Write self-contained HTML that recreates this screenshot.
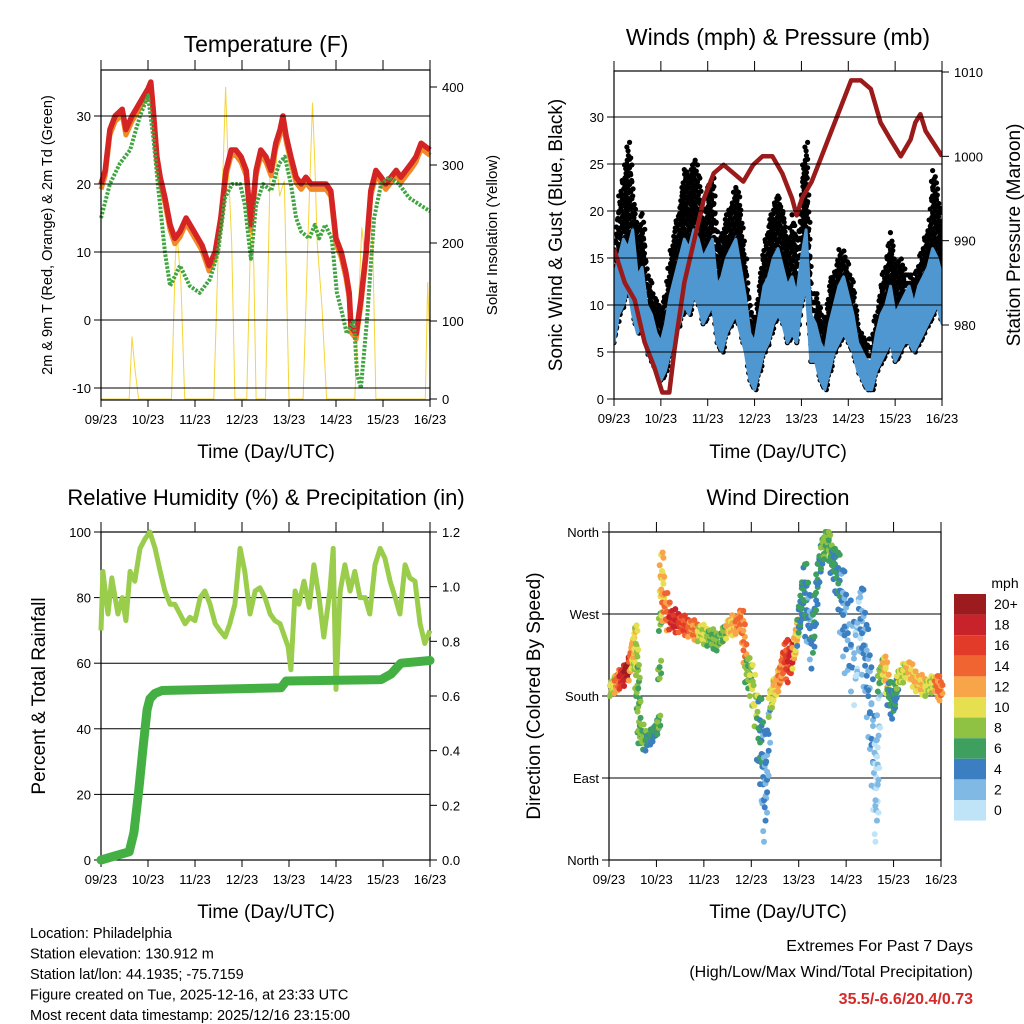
<!DOCTYPE html>
<html><head><meta charset="utf-8"><style>
body{margin:0;background:#fff;}
svg{display:block;font-family:"Liberation Sans",sans-serif;}
</style></head><body>
<svg id="c" width="1024" height="1024" viewBox="0 0 1024 1024"></svg>
<script>
// ---- Temperature panel data (days since 09/23) ----
const tDays=[0,0.09,0.19,0.3,0.45,0.53,0.66,0.83,1.0,1.06,1.11,1.19,1.26,1.36,1.47,1.57,1.68,1.81,1.98,2.15,2.3,2.43,2.55,2.66,2.77,2.87,2.98,3.09,3.19,3.3,3.4,3.51,3.62,3.72,3.81,3.87,3.94,4.04,4.15,4.26,4.36,4.47,4.57,4.68,4.79,4.89,5.0,5.11,5.21,5.28,5.32,5.43,5.53,5.64,5.74,5.85,5.96,6.06,6.17,6.28,6.38,6.49,6.6,6.7,6.81,7.0];
const tempRed=[20,22,28,30,31,28,30,32,34,35,31,24,21,18,14,12,13,15,13,11,8,10,15,22,25,25,24,22,14,22,25,24,22,26,28,30,27,24,21,20,21,20,20,20,20,19,12,10,7,4,-1,-2,3,10,19,22,21,20,21,22,21,22,23,24,26,25];
const dewDays=[0,0.19,0.4,0.62,0.83,1.0,1.11,1.21,1.36,1.47,1.68,1.89,2.1,2.32,2.49,2.64,2.79,2.96,3.06,3.19,3.3,3.45,3.62,3.79,3.91,4.04,4.15,4.26,4.43,4.55,4.64,4.77,4.91,5.02,5.13,5.23,5.38,5.45,5.53,5.66,5.81,5.96,6.13,6.34,6.55,6.77,7.0];
const dewGreen=[15,20,23,25,30,33,27,20,10,5,8,5,4,6,10,18,20,20,17,9,17,20,19,23,24,20,15,13,12,14,12,14,12,4,1,-2,0,-8,-10,0,15,20,21,20,18,17,16];
const solarDays=[0,0.6,0.66,0.72,0.8,1.5,1.58,1.62,1.7,1.78,2.4,2.5,2.6,2.65,2.7,2.78,2.85,3.1,3.2,3.25,3.3,3.5,3.6,3.7,3.8,3.9,4.0,4.3,4.4,4.5,4.55,4.6,4.7,4.8,5.4,5.5,5.55,5.62,5.7,5.78,5.85,6.0,6.9,6.95,7.0];
const solarY=[0,0,80,40,0,0,180,210,150,0,0,200,300,400,310,200,0,0,250,170,0,0,300,330,260,280,0,0,200,380,300,200,120,0,0,150,220,180,240,200,0,0,0,150,60];
// ---- Wind panel data ----
const wDays=[0,0.1,0.2,0.3,0.4,0.5,0.6,0.7,0.8,0.9,1.0,1.1,1.2,1.3,1.4,1.5,1.6,1.7,1.8,1.9,2.0,2.1,2.2,2.3,2.4,2.5,2.6,2.7,2.8,2.9,3.0,3.1,3.2,3.3,3.4,3.5,3.6,3.7,3.8,3.9,4.0,4.1,4.2,4.3,4.4,4.5,4.6,4.7,4.8,4.9,5.0,5.1,5.2,5.3,5.4,5.5,5.6,5.7,5.8,5.9,6.0,6.1,6.2,6.3,6.4,6.5,6.6,6.7,6.8,6.9,7.0];
const windLo=[6,9,10,12,9,7,8,5,4,3,2,3,5,7,8,10,9,11,10,8,9,10,6,5,7,8,9,7,5,2,1,3,5,6,8,9,8,6,7,6,10,12,4,4,2,1,3,5,6,7,6,5,3,2,1,1,3,4,5,6,4,5,6,6,5,6,7,8,9,10,8];
const windHi=[13,15,17,16,18,13,14,10,9,7,6,8,11,13,15,17,16,18,17,15,16,17,12,13,15,16,17,14,11,7,6,9,12,13,15,16,14,12,13,11,15,18,9,8,6,5,8,10,12,13,11,9,6,5,4,4,7,9,10,12,9,10,11,12,10,12,13,14,16,15,13];
const windGust=[17,22,24,28,22,18,20,14,12,11,10,12,16,19,21,25,24,26,24,19,23,24,17,18,20,21,23,20,15,10,9,13,17,19,21,22,20,17,20,16,24,28,11,12,9,9,13,14,16,16,14,12,8,7,6,7,10,13,15,18,14,15,14,14,13,15,17,18,25,22,18];
const presDays=[0,0.23,0.44,0.65,0.86,1.03,1.18,1.29,1.5,1.71,1.92,2.13,2.34,2.55,2.76,2.97,3.17,3.38,3.59,3.8,3.9,4.01,4.22,4.43,4.64,4.85,5.06,5.17,5.27,5.48,5.69,5.9,6.12,6.33,6.43,6.54,6.65,7.0];
const pressure=[989,985,983,978,975,972,972,977,985,990,995,998,999,998,997,999,1000,1000,998,995,993,995,997,1000,1003,1006,1009,1009,1009,1008,1004,1002,1000,1002,1004,1005,1003,1000];
// ---- RH / precip data ----
const rhDays=[0,0.04,0.15,0.23,0.36,0.45,0.53,0.62,0.72,0.83,0.94,1.04,1.15,1.26,1.36,1.47,1.57,1.68,1.79,1.89,2.0,2.11,2.21,2.32,2.43,2.53,2.64,2.74,2.85,2.96,3.06,3.17,3.28,3.38,3.49,3.6,3.7,3.81,3.98,4.04,4.13,4.21,4.32,4.43,4.53,4.64,4.74,4.87,4.94,5.0,5.09,5.19,5.3,5.4,5.51,5.62,5.72,5.83,5.94,6.04,6.15,6.26,6.36,6.47,6.57,6.68,6.79,6.89,7.0];
const rh=[70,88,75,86,75,80,73,88,85,95,98,100,95,88,82,78,78,75,72,74,73,80,82,78,72,70,68,72,78,95,88,75,82,83,80,75,73,72,65,58,82,78,85,77,90,80,68,82,95,52,82,90,82,88,80,80,75,90,95,92,85,80,75,90,86,85,72,66,70];
const prDays=[0,0.4,0.6,0.7,0.8,0.9,0.98,1.04,1.15,1.3,3.83,3.94,5.96,6.17,6.38,7.0];
const precip=[0,0.02,0.03,0.1,0.25,0.42,0.55,0.59,0.61,0.62,0.63,0.655,0.66,0.68,0.72,0.73];
// ---- Wind direction data ----
const dDays=[0.05,0.15,0.25,0.35,0.45,0.5,0.55,0.6,0.65,0.8,0.95,1.05,1.1,1.15,1.3,1.5,1.7,1.9,2.1,2.3,2.5,2.7,2.8,2.9,3.0,3.15,3.25,3.3,3.4,3.5,3.6,3.7,3.8,3.9,4.0,4.1,4.2,4.3,4.4,4.5,4.6,4.7,4.8,4.9,5.0,5.2,5.3,5.4,5.5,5.6,5.65,5.7,5.8,5.9,6.0,6.1,6.3,6.5,6.7,6.9,7.0];
const dDir=[190,195,200,205,215,230,240,200,140,130,140,150,320,280,265,260,255,250,245,240,255,260,265,210,200,150,110,60,175,190,200,225,215,230,260,300,270,240,310,340,355,330,320,290,250,220,270,230,180,100,60,200,215,185,170,200,210,195,190,195,185];
const dSpread=[10,12,12,14,18,20,25,20,12,10,10,12,25,18,12,10,10,10,10,10,12,12,12,15,20,40,45,40,18,15,15,20,20,20,25,35,30,30,25,20,10,15,25,40,45,50,40,40,45,45,40,15,12,15,15,12,10,10,10,10,10];
const dSpd=[8,12,16,18,12,10,9,7,6,5,4,7,10,12,16,14,12,8,7,6,10,12,12,7,8,4,3,2,8,10,12,14,16,10,5,4,3,4,5,6,7,5,4,2,2,1,2,3,2,1,1,6,10,5,4,8,10,10,8,12,12];
const cbLabels=["20+","18","16","14","12","10","8","6","4","2","0"];
const cbColors=["#9b1b1e","#c8232b","#e23b2a","#f06432","#f8a448","#e6df4f","#8fc143","#3f9f5e","#3b7fc2","#80b9e3","#bfe4f8"];

const NS="http://www.w3.org/2000/svg";
const svg=document.getElementById('c');
function mk(tag,attrs,parent){const e=document.createElementNS(NS,tag);for(const k in attrs)e.setAttribute(k,attrs[k]);(parent||svg).appendChild(e);return e;}
function txt(s,x,y,size,anchor,parent,extra){const e=mk('text',Object.assign({x:x,y:y,'font-size':size,'text-anchor':anchor||'middle',fill:'#000'},extra||{}),parent);e.textContent=s;return e;}
function lin(d0,d1,p0,p1){return v=>p0+(v-d0)/(d1-d0)*(p1-p0);}
function pathOf(xs,ys,X,Y){return xs.map((d,i)=>(i?'L':'M')+X(d).toFixed(1)+' '+Y(ys[i]).toFixed(1)).join(' ');}
const dayLabels=["09/23","10/23","11/23","12/23","13/23","14/23","15/23","16/23"];

function frame(g,x0,x1,y0,y1,X,leftTicks,LY,rightTicks,RY,grid){
  if(grid) leftTicks.forEach(t=>{const y=LY(t.v);if(y>y0+1&&y<y1-1)mk('line',{x1:x0,x2:x1,y1:y,y2:y,stroke:'#000','stroke-width':1},g);});
  leftTicks.forEach(t=>{const y=LY(t.v);mk('line',{x1:x0-7,x2:x0,y1:y,y2:y,stroke:'#000'},g);txt(t.l,x0-10,y+5,13,'end',g);});
  if(rightTicks) rightTicks.forEach(t=>{const y=RY(t.v);mk('line',{x1:x1,x2:x1+7,y1:y,y2:y,stroke:'#000'},g);txt(t.l,x1+12,y+5,13,'start',g);});
  dayLabels.forEach((l,i)=>{const x=X(i);mk('line',{x1:x,x2:x,y1:y1,y2:y1+7,stroke:'#000'},g);mk('line',{x1:x,x2:x,y1:y0-10,y2:y0,stroke:'#000'},g);txt(l,x,y1+24,13,'middle',g);});
  mk('rect',{x:x0,y:y0,width:x1-x0,height:y1-y0,fill:'none',stroke:'#000','stroke-width':1.2},g);
}

// ===== Panel 1: Temperature =====
(function(){
  const g=mk('g',{});
  const x0=101,x1=430,y0=70,y1=400;
  const X=lin(0,7,x0,x1),Y=lin(0,30,320,116),R=lin(0,400,399,87);
  const solar=mk('path',{d:pathOf(solarDays,solarY,X,R),fill:'none',stroke:'#f5d53a','stroke-width':1},g);
  
  const orange=mk('path',{d:pathOf(tDays,tempRed.map(v=>v-0.8),X,Y),fill:'none',stroke:'#f08a28','stroke-width':5,'stroke-linejoin':'round'},g);
  
  const red=mk('path',{d:pathOf(tDays,tempRed,X,Y),fill:'none',stroke:'#d42424','stroke-width':5.5,'stroke-linejoin':'round'},g);
  
  const grn=mk('path',{d:pathOf(dewDays,dewGreen,X,Y),fill:'none',stroke:'#3fa540','stroke-width':4,'stroke-dasharray':'2.5 1.5','stroke-linejoin':'round'},g);
  
  frame(g,x0,x1,y0,y1,X,[-10,0,10,20,30].map(v=>({v:v,l:String(v)})),Y,[0,100,200,300,400].map(v=>({v:v,l:String(v)})),R,true);
  const t=txt('Temperature (F)',266,52,23,'middle',g);
  const xl=txt('Time (Day/UTC)',266,458,19,'middle',g);
  const yl=txt('2m & 9m T (Red, Orange) & 2m Td (Green)',0,0,14.5,'middle',g,{transform:'translate(52,235) rotate(-90)'});
  const yr=txt('Solar Insolation (Yellow)',0,0,15,'middle',g,{transform:'translate(497,235) rotate(-90)'});
})();

// ===== Panel 2: Winds =====
(function(){
  const g=mk('g',{});
  const x0=614,x1=942,y0=71,y1=399;
  const X=lin(0,7,x0,x1),Y=lin(0,30,399,117),P=lin(980,1010,325,72);
  const clip=mk('clipPath',{id:'wc'},g);mk('rect',{x:x0,y:y0,width:x1-x0,height:y1-y0},clip);
  const gi=mk('g',{'clip-path':'url(#wc)'},g);
  for(let i=0;i<wDays.length-1;i++){
    for(let k=0;k<4;k++){
      const f=k/4,d=wDays[i]+(wDays[i+1]-wDays[i])*f;
      const lo=windLo[i]+(windLo[i+1]-windLo[i])*f,gu=windGust[i]+(windGust[i+1]-windGust[i])*f;
      for(let v=lo;v<=gu;v+=0.9){
        const c=mk('circle',{cx:X(d)+((k+Math.round(v))%2)*1.5,cy:Y(v),r:2.6,fill:'#000'},gi);
        
        
      }
    }
  }
  const top=wDays.map((d,i)=>X(d).toFixed(1)+','+Y(windHi[i]).toFixed(1));
  const bot=wDays.map((d,i)=>X(d).toFixed(1)+','+Y(windLo[i]).toFixed(1)).reverse();
  const band=mk('polygon',{points:top.concat(bot).join(' '),fill:'#4f97d0',stroke:'#4f97d0','stroke-width':3,'stroke-linejoin':'round'},gi);
  
  const pl=mk('path',{d:pathOf(presDays,pressure,X,P),fill:'none',stroke:'#9b1a1a','stroke-width':4.5,'stroke-linejoin':'round'},gi);
  
  frame(g,x0,x1,y0,y1,X,[0,5,10,15,20,25,30].map(v=>({v:v,l:String(v)})),Y,[980,990,1000,1010].map(v=>({v:v,l:String(v)})),P,true);
  const t=txt('Winds (mph) & Pressure (mb)',778,45,23,'middle',g);
  const xl=txt('Time (Day/UTC)',778,458,19,'middle',g);
  const yl=txt('Sonic Wind & Gust (Blue, Black)',0,0,19,'middle',g,{transform:'translate(562,235) rotate(-90)'});
  const yr=txt('Station Pressure (Maroon)',0,0,19,'middle',g,{transform:'translate(1020,235) rotate(-90)'});
})();

// ===== Panel 3: RH & precip =====
(function(){
  const g=mk('g',{});
  const x0=101,x1=430,y0=532,y1=860;
  const X=lin(0,7,x0,x1),Y=lin(0,100,860,532),R=lin(0,1.2,860,532);
  frame(g,x0,x1,y0,y1,X,[0,20,40,60,80,100].map(v=>({v:v,l:String(v)})),Y,[0,0.2,0.4,0.6,0.8,1.0,1.2].map(v=>({v:v,l:v.toFixed(1)})),R,true);
  const rl=mk('path',{d:pathOf(rhDays,rh,X,Y),fill:'none',stroke:'#9acd4c','stroke-width':5,'stroke-linejoin':'round'},g);
  
  const pl=mk('path',{d:pathOf(prDays,precip,X,R),fill:'none',stroke:'#44b044','stroke-width':9,'stroke-linejoin':'round','stroke-linecap':'round'},g);
  
  const t=txt('Relative Humidity (%) & Precipitation (in)',266,505,22,'middle',g);
  const xl=txt('Time (Day/UTC)',266,918,19,'middle',g);
  const yl=txt('Percent & Total Rainfall',0,0,19,'middle',g,{transform:'translate(45,696) rotate(-90)'});
})();

// ===== Panel 4: Wind direction =====
(function(){
  const g=mk('g',{});
  const x0=609,x1=941,y0=532,y1=860;
  const X=lin(0,7,x0,x1),Y=lin(0,360,860,532);
  frame(g,x0,x1,y0,y1,X,[{v:0,l:'North'},{v:90,l:'East'},{v:180,l:'South'},{v:270,l:'West'},{v:360,l:'North'}],Y,null,null,true);
  const col=s=>cbColors[10-Math.min(10,Math.round(s/2))];
  const offs=[-1,-0.6,-0.2,0.2,0.6,1];
  for(let i=0;i<dDays.length;i++){
    const n=(i<dDays.length-1)?3:1;
    for(let k=0;k<n;k++){
      const f=k/n,j=Math.min(i+1,dDays.length-1);
      const d=dDays[i]+(dDays[j]-dDays[i])*f,v=dDir[i]+(dDir[j]-dDir[i])*f;
      offs.forEach((o,m)=>{
        const vv=Math.max(0,Math.min(360,v+o*dSpread[i]*((m+k)%2?0.7:1)));
        const c=mk('circle',{cx:X(d)+((m%3)-1)*1.5,cy:Y(vv),r:3,fill:col(dSpd[i]+((m%2)?1:-1))},g);
        
        
      });
    }
  }
  const cb=mk('g',{},g);
  txt('mph',1005,588,14,'middle',cb);
  cbColors.forEach((c,i)=>{const r=mk('rect',{x:954,y:594+i*20.6,width:32,height:20.6,fill:c},cb);
    
    txt(cbLabels[i],994,609+i*20.6,14,'start',cb);});
  const t=txt('Wind Direction',778,505,22,'middle',g);
  const xl=txt('Time (Day/UTC)',778,918,19,'middle',g);
  const yl=txt('Direction (Colored By Speed)',0,0,19,'middle',g,{transform:'translate(540,696) rotate(-90)'});
})();

// ===== Footer =====
(function(){
  const g=mk('g',{});
  ["Location: Philadelphia","Station elevation: 130.912 m","Station lat/lon: 44.1935; -75.7159","Figure created on Tue, 2025-12-16, at 23:33 UTC","Most recent data timestamp: 2025/12/16 23:15:00"].forEach((s,i)=>txt(s,30,938+i*20.5,14.5,'start',g));
  const h=mk('g',{});
  txt('Extremes For Past 7 Days',973,951,16,'end',h);
  txt('(High/Low/Max Wind/Total Precipitation)',973,977,16,'end',h);
  txt('35.5/-6.6/20.4/0.73',973,1004,16,'end',h,{fill:'#d42a2a','font-weight':'bold'});
})();
</script>
</body></html>
